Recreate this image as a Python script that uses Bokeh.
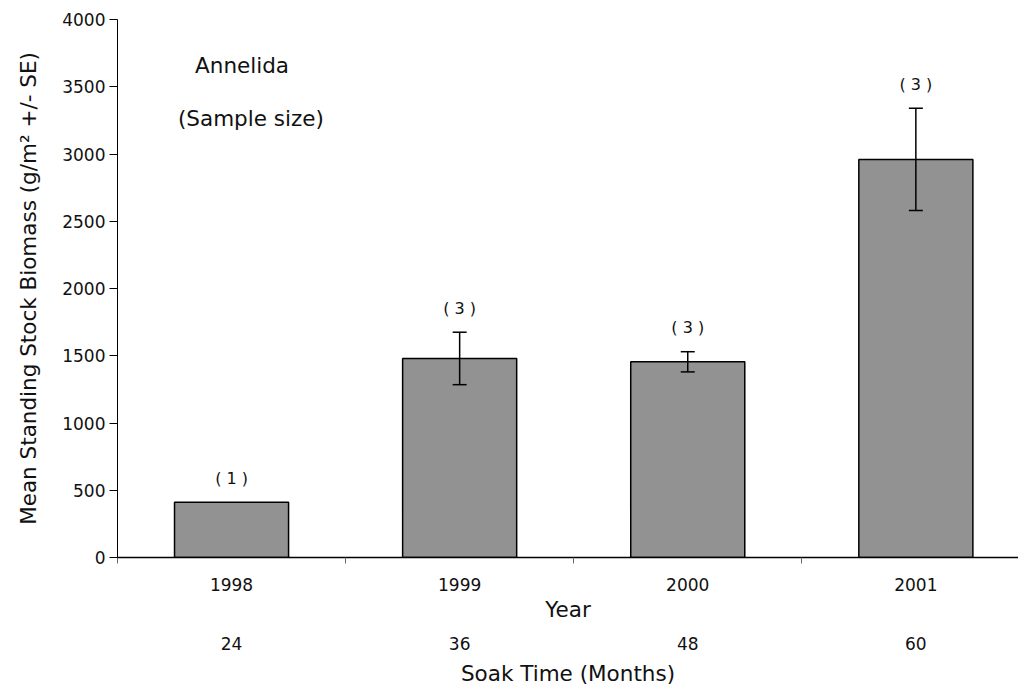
from bokeh.plotting import figure
from bokeh.models import (FixedTicker, LinearAxis, Range1d, ColumnDataSource,
                          Whisker, TeeHead, Label)
from bokeh.core.properties import value
from bokeh.embed import file_html
from bokeh.resources import INLINE

# ---- data ----
years = ["1998", "1999", "2000", "2001"]
soak_months = ["24", "36", "48", "60"]
biomass = [410, 1480, 1455, 2960]
se = [0, 195, 75, 380]
sample_size = [1, 3, 3, 3]
y_ticks = [0, 500, 1000, 1500, 2000, 2500, 3000, 3500, 4000]

FONT = "DejaVu Sans"
TICK_SIZE = "17px"
LABEL_SIZE = "21.5px"
INK = "#111111"

pos = [i + 0.5 for i in range(len(years))]

p = figure(width=1018, height=689, output_backend="svg", toolbar_location=None,
           x_range=Range1d(0, 3.95), y_range=Range1d(0, 4000),
           min_border_left=117, min_border_right=0, min_border_top=19,
           min_border_bottom=132, x_axis_type=None)
p.outline_line_color = None
p.grid.visible = False
p.background_fill_color = "white"
p.border_fill_color = "white"

# bars
src = ColumnDataSource(dict(x=pos, top=biomass))
p.vbar(x="x", top="top", width=0.5, source=src, fill_color="#929292",
       line_color="black", line_width=1.5)

# error bars (only where SE > 0)
ex = [pos[i] for i in range(len(se)) if se[i] > 0]
elo = [biomass[i] - se[i] for i in range(len(se)) if se[i] > 0]
ehi = [biomass[i] + se[i] for i in range(len(se)) if se[i] > 0]
esrc = ColumnDataSource(dict(x=ex, lower=elo, upper=ehi))
w = Whisker(base="x", lower="lower", upper="upper", source=esrc,
            line_color="black", line_width=1.5, level="overlay",
            upper_head=TeeHead(size=14, line_color="black", line_width=1.5),
            lower_head=TeeHead(size=14, line_color="black", line_width=1.5))
p.add_layout(w)

# sample size labels
lsrc = ColumnDataSource(dict(x=pos, y=[b + s for b, s in zip(biomass, se)],
                             t=["( %d )" % n for n in sample_size]))
p.text(x="x", y="y", text="t", source=lsrc, text_align="center",
       text_baseline="middle", y_offset=-24, text_font=value(FONT),
       text_font_size="16px", text_color=INK)

# y axis
p.yaxis.ticker = FixedTicker(ticks=y_ticks)
p.yaxis.axis_label = "Mean Standing Stock Biomass (g/m\u00b2 +/- SE)"
p.yaxis.axis_label_text_font = FONT
p.yaxis.axis_label_text_font_size = LABEL_SIZE
p.yaxis.axis_label_text_font_style = "normal"
p.yaxis.axis_label_text_color = INK
p.yaxis.axis_label_standoff = 18
p.yaxis.major_label_text_font = FONT
p.yaxis.major_label_text_font_size = TICK_SIZE
p.yaxis.major_label_text_color = INK
p.yaxis.major_label_standoff = 4
p.yaxis.major_tick_out = 8
p.yaxis.major_tick_in = 0
p.yaxis.minor_tick_line_color = None
p.yaxis.axis_line_color = "black"
p.yaxis.major_tick_line_color = "black"

# x axis: years
xa = LinearAxis(ticker=FixedTicker(ticks=pos, minor_ticks=[0, 1, 2, 3]),
                major_label_overrides={pos[i]: years[i] for i in range(len(years))},
                axis_label="Year")
xa.axis_line_color = "black"
xa.axis_line_width = 1.5
xa.major_tick_line_color = None
xa.major_tick_out = 0
xa.major_tick_in = 0
xa.minor_tick_out = 6
xa.minor_tick_in = 0
xa.minor_tick_line_color = "#666666"
xa.major_label_standoff = 14
xa.major_label_text_font = FONT
xa.major_label_text_font_size = TICK_SIZE
xa.major_label_text_color = INK
xa.axis_label_standoff = 3
xa.axis_label_text_font = FONT
xa.axis_label_text_font_size = LABEL_SIZE
xa.axis_label_text_font_style = "normal"
xa.axis_label_text_color = INK
p.add_layout(xa, "below")

# x axis: soak time
xb = LinearAxis(ticker=FixedTicker(ticks=pos),
                major_label_overrides={pos[i]: soak_months[i] for i in range(len(soak_months))},
                axis_label="Soak Time (Months)")
xb.axis_line_color = None
xb.major_tick_line_color = None
xb.minor_tick_line_color = None
xb.major_tick_out = 0
xb.major_tick_in = 0
xb.major_label_standoff = 12
xb.major_label_text_font = FONT
xb.major_label_text_font_size = TICK_SIZE
xb.major_label_text_color = INK
xb.axis_label_standoff = 8
xb.axis_label_text_font = FONT
xb.axis_label_text_font_size = LABEL_SIZE
xb.axis_label_text_font_style = "normal"
xb.axis_label_text_color = INK
p.add_layout(xb, "below")

# annotations
p.add_layout(Label(x=0.34, y=3658, text="Annelida", text_font=FONT,
                   text_font_size=LABEL_SIZE, text_baseline="middle",
                   text_align="left", text_color=INK))
p.add_layout(Label(x=0.265, y=3264, text="(Sample size)", text_font=FONT,
                   text_font_size=LABEL_SIZE, text_baseline="middle",
                   text_align="left", text_color=INK))

open("out.html", "w").write(file_html(p, INLINE))
